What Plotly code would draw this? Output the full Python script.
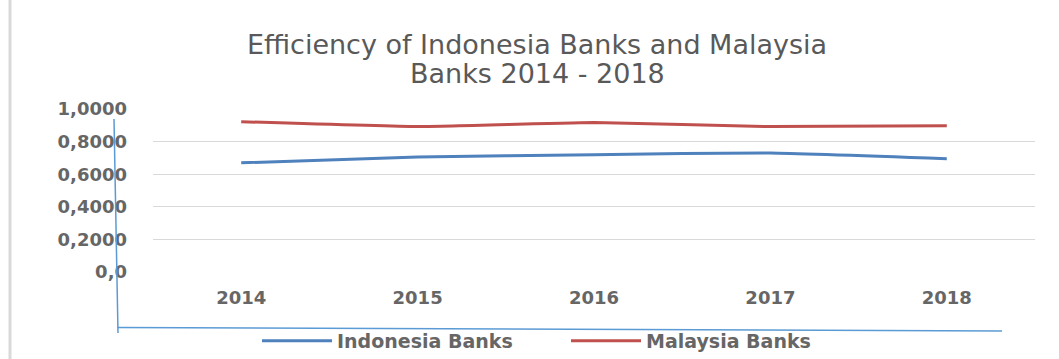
import plotly.graph_objects as go

years = ["2014", "2015", "2016", "2017", "2018"]
indonesia = [0.670, 0.705, 0.720, 0.730, 0.695]
malaysia = [0.922, 0.892, 0.917, 0.892, 0.897]
ytick_vals = [0.0, 0.2, 0.4, 0.6, 0.8, 1.0]
ytick_text = ["0,0", "0,2000", "0,4000", "0,6000", "0,8000", "1,0000"]
title_line1 = "Efficiency of Indonesia Banks and Malaysia"
title_line2 = "Banks 2014 - 2018"

W, H = 1059, 359
L, R, T, B = 153, 24, 109, 87
PW, PH = W - L - R, H - T - B

def px(x):
    return (x - L) / PW

def py(y):
    return (H - B - y) / PH

fig = go.Figure()
fig.add_trace(go.Scatter(x=years, y=indonesia, name="Indonesia Banks", mode="lines",
                         line=dict(color="#4F81BD", width=3, shape="spline", smoothing=0.4)))
fig.add_trace(go.Scatter(x=years, y=malaysia, name="Malaysia Banks", mode="lines",
                         line=dict(color="#C0504D", width=3, shape="spline", smoothing=0.4)))

tick_font = dict(family="DejaVu Sans", size=18, color="#666666", weight="bold")
title_font = dict(family="DejaVu Sans", size=27, color="#595959")

fig.update_layout(
    width=W, height=H,
    margin=dict(l=L, r=R, t=T, b=B, autoexpand=False),
    paper_bgcolor="white", plot_bgcolor="white",
    title=dict(text=title_line1, font=title_font,
               x=537 / W, xanchor="center", y=1 - 45 / H, yanchor="middle"),
    annotations=[dict(text=title_line2, font=title_font, xref="paper", yref="paper",
                      x=px(537), y=py(73), xanchor="center", yanchor="middle", showarrow=False)],
    xaxis=dict(type="category", range=[-0.5, 4.5], showgrid=False, zeroline=False, showline=False,
               ticks="", tickfont=tick_font, ticklabelstandoff=13),
    yaxis=dict(range=[0, 1], tickvals=ytick_vals, ticktext=ytick_text,
               showgrid=True, gridcolor="#D9D9D9", gridwidth=1, zeroline=False,
               showline=False, ticks="", tickfont=tick_font, ticklabelstandoff=25),
    showlegend=True,
    legend=dict(orientation="h", x=px(566), xanchor="center", y=py(341), yanchor="middle",
                font=dict(family="DejaVu Sans", size=19, color="#666666", weight="bold"),
                itemwidth=70, entrywidth=224, entrywidthmode="pixels",
                bgcolor="rgba(0,0,0,0)"),
    hovermode=False,
    shapes=[
        dict(type="line", xref="paper", yref="paper", x0=px(114), y0=py(119), x1=px(118), y1=py(333),
             line=dict(color="#5B9BD5", width=1.5)),
        dict(type="line", xref="paper", yref="paper", x0=px(117), y0=py(327.5), x1=px(1002), y1=py(331),
             line=dict(color="#5B9BD5", width=1.5)),
        dict(type="line", xref="paper", yref="paper", x0=px(10), y0=py(-5), x1=px(10), y1=py(364),
             line=dict(color="#D9D9D9", width=3)),
    ],
)

fig.write_html("out.html")
